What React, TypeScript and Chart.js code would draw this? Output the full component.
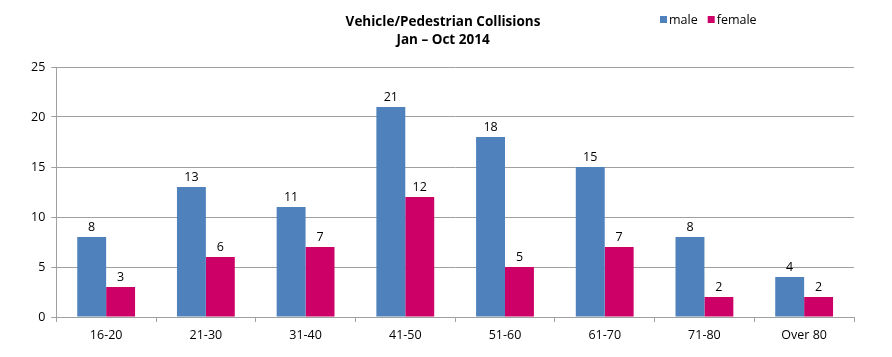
import React, { useEffect, useRef } from "react";
import { Chart, registerables } from "chart.js";

Chart.register(...registerables);

const categories = ["16-20", "21-30", "31-40", "41-50", "51-60", "61-70", "71-80", "Over 80"];
const maleValues = [8, 13, 11, 21, 18, 15, 8, 4];
const femaleValues = [3, 6, 7, 12, 5, 7, 2, 2];
const titleLines = ["Vehicle/Pedestrian Collisions", "Jan \u2013 Oct 2014"];
const seriesNames = ["male", "female"];
const colors = ["#4F81BD", "#CC0066"];
const FONT = "'Open Sans', 'Noto Sans', sans-serif";

export default function App() {
  const ref = useRef<HTMLCanvasElement | null>(null);
  useEffect(() => {
    if (!ref.current) return;
    const overlay = {
      id: "overlay",
      afterDatasetsDraw(chart: any) {
        const ctx = chart.ctx;
        ctx.save();
        ctx.fillStyle = "#000";
        ctx.font = `12.5px ${FONT}`;
        ctx.textAlign = "center";
        ctx.textBaseline = "bottom";
        chart.data.datasets.forEach((ds: any, i: number) => {
          const meta = chart.getDatasetMeta(i);
          meta.data.forEach((bar: any, j: number) => {
            ctx.fillText(String(ds.data[j]), bar.x, bar.y - 3);
          });
        });
        // title
        ctx.font = `bold 13.5px ${FONT}`;
        ctx.textBaseline = "middle";
        ctx.fillText(titleLines[0], 435, 14);
        ctx.fillText(titleLines[1], 435, 32);
        // legend
        ctx.font = `12.5px ${FONT}`;
        ctx.textAlign = "left";
        let x = 652;
        seriesNames.forEach((n, i) => {
          ctx.fillStyle = colors[i];
          ctx.fillRect(x, 8, 7, 7);
          ctx.fillStyle = "#000";
          ctx.fillText(n, x + 9, 12);
          x += 9 + ctx.measureText(n).width + 10;
        });
        ctx.restore();
      },
    };
    const chart = new Chart(ref.current, {
      type: "bar",
      data: {
        labels: categories,
        datasets: [
          { label: seriesNames[0], data: maleValues, backgroundColor: colors[0], categoryPercentage: 0.58, barPercentage: 1 },
          { label: seriesNames[1], data: femaleValues, backgroundColor: colors[1], categoryPercentage: 0.58, barPercentage: 1 },
        ],
      },
      options: {
        animation: false,
        responsive: true,
        maintainAspectRatio: false,
        layout: { padding: { top: 59, right: 30, bottom: 0, left: 17 } },
        plugins: { legend: { display: false }, title: { display: false }, tooltip: { enabled: false } },
        scales: {
          y: {
            min: 0,
            max: 25,
            ticks: { stepSize: 5, color: "#000", font: { family: FONT, size: 12.5 }, padding: 6 },
            grid: { color: "#A0A0A0", tickLength: 5, drawTicks: true },
            border: { color: "#A0A0A0" },
          },
          x: {
            ticks: { color: "#000", font: { family: FONT, size: 12.5 }, padding: 6 },
            grid: { offset: true, drawOnChartArea: false, drawTicks: true, tickLength: 5, color: "#A0A0A0" },
            border: { color: "#A0A0A0" },
          },
        },
      },
      plugins: [overlay],
    });
    return () => chart.destroy();
  }, []);
  return (
    <div style={{ width: 876, height: 341, position: "relative" }}>
      <canvas ref={ref} />
    </div>
  );
}
